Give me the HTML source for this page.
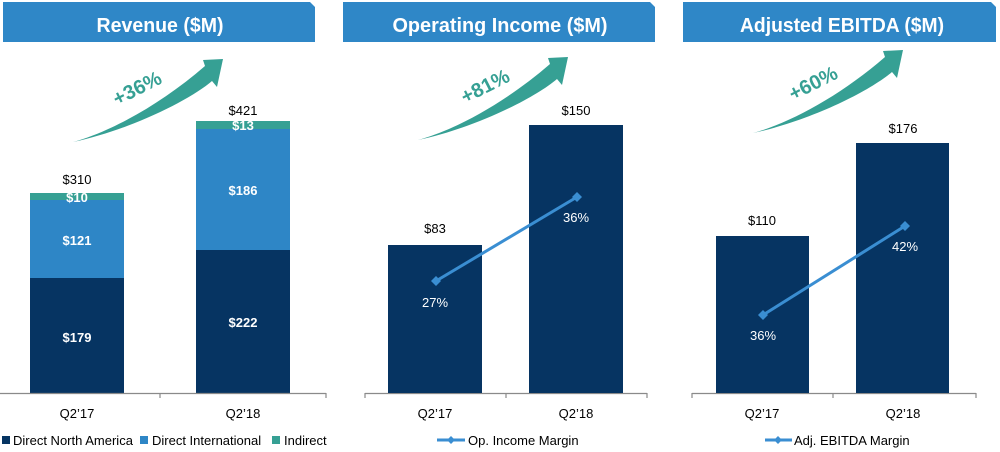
<!DOCTYPE html>
<html><head><meta charset="utf-8"><style>
html,body{margin:0;padding:0;background:#fff;}
svg{display:block;}
text{font-family:"Liberation Sans",sans-serif;}
</style></head><body>
<svg width="1000" height="452" viewBox="0 0 1000 452" xmlns="http://www.w3.org/2000/svg">
<defs>
<g id="arrow">
<path d="M73 142 C110 132 160 105 205 66 L203 60 L223 59 L217 87 L212 81 C190 100 130 130 73 142 Z" fill="#36A094"/>
</g>
</defs>
<!-- Headers -->
<polygon points="3,2 310,2 315,7 315,42 3,42" fill="#2F87C7"/>
<polygon points="343,2 650,2 655,7 655,42 343,42" fill="#2F87C7"/>
<polygon points="683,2 991,2 996,7 996,42 683,42" fill="#2F87C7"/>
<text x="160" y="32" fill="#fff" font-size="20" font-weight="bold" text-anchor="middle" textLength="127" lengthAdjust="spacingAndGlyphs">Revenue ($M)</text>
<text x="500" y="32" fill="#fff" font-size="20" font-weight="bold" text-anchor="middle" textLength="215" lengthAdjust="spacingAndGlyphs">Operating Income ($M)</text>
<text x="842" y="32" fill="#fff" font-size="20" font-weight="bold" text-anchor="middle" textLength="204" lengthAdjust="spacingAndGlyphs">Adjusted EBITDA ($M)</text>

<!-- Arrows -->
<use href="#arrow"/>
<use href="#arrow" transform="translate(345,-2)"/>
<use href="#arrow" transform="translate(680,-9)"/>
<text x="137" y="95" fill="#36A094" font-size="20" font-weight="bold" text-anchor="middle" transform="rotate(-27 137 88)">+36%</text>
<text x="485" y="93" fill="#36A094" font-size="20" font-weight="bold" text-anchor="middle" transform="rotate(-27 485 86)">+81%</text>
<text x="813" y="90" fill="#36A094" font-size="20" font-weight="bold" text-anchor="middle" transform="rotate(-27 813 83)">+60%</text>

<!-- Panel 1 bars -->
<rect x="30" y="193" width="94" height="7" fill="#36A094"/>
<rect x="30" y="200" width="94" height="78" fill="#2E86C6"/>
<rect x="30" y="278" width="94" height="115" fill="#063462"/>
<rect x="196" y="121" width="94" height="8" fill="#36A094"/>
<rect x="196" y="129" width="94" height="121" fill="#2E86C6"/>
<rect x="196" y="250" width="94" height="143" fill="#063462"/>
<g font-size="13" text-anchor="middle">
<text x="77" y="184" fill="#000">$310</text>
<text x="243" y="115" fill="#000">$421</text>
<g fill="#fff" font-weight="bold">
<text x="77" y="202">$10</text>
<text x="77" y="245">$121</text>
<text x="77" y="342">$179</text>
<text x="243" y="130">$13</text>
<text x="243" y="195">$186</text>
<text x="243" y="327">$222</text>
</g>
<text x="77" y="418" fill="#000">Q2’17</text>
<text x="243" y="418" fill="#000">Q2’18</text>
</g>
<g stroke="#8a8a8a" stroke-width="1.2" fill="none">
<line x1="0" y1="393.5" x2="326" y2="393.5"/>
<line x1="160" y1="393" x2="160" y2="398"/>
<line x1="326" y1="393" x2="326" y2="398"/>
<line x1="365" y1="393.5" x2="647" y2="393.5"/>
<line x1="365" y1="393" x2="365" y2="398"/>
<line x1="506" y1="393" x2="506" y2="398"/>
<line x1="647" y1="393" x2="647" y2="398"/>
<line x1="692" y1="393.5" x2="976" y2="393.5"/>
<line x1="692" y1="393" x2="692" y2="398"/>
<line x1="833" y1="393" x2="833" y2="398"/>
<line x1="976" y1="393" x2="976" y2="398"/>
</g>
<!-- Panel 1 legend -->
<rect x="2" y="436" width="8" height="8" fill="#063462"/>
<text x="13" y="445" font-size="13" fill="#000">Direct North America</text>
<rect x="140" y="436" width="8" height="8" fill="#2E86C6"/>
<text x="152" y="445" font-size="13" fill="#000">Direct International</text>
<rect x="272" y="436" width="8" height="8" fill="#36A094"/>
<text x="284" y="445" font-size="13" fill="#000">Indirect</text>

<!-- Panel 2 -->
<rect x="388" y="245" width="94" height="148" fill="#063462"/>
<rect x="529" y="125" width="94" height="268" fill="#063462"/>
<line x1="436" y1="281" x2="577" y2="197" stroke="#3A8ED2" stroke-width="3"/>
<polygon points="436,276 441,281 436,286 431,281" fill="#3A8ED2"/>
<polygon points="577,192 582,197 577,202 572,197" fill="#3A8ED2"/>
<g font-size="13" text-anchor="middle">
<text x="435" y="233" fill="#000">$83</text>
<text x="576" y="115" fill="#000">$150</text>
<text x="435" y="307" fill="#fff">27%</text>
<text x="576" y="222" fill="#fff">36%</text>
<text x="435" y="418" fill="#000">Q2’17</text>
<text x="576" y="418" fill="#000">Q2’18</text>
</g>
<line x1="437" y1="440" x2="465" y2="440" stroke="#3A8ED2" stroke-width="3"/>
<polygon points="451,436 455,440 451,444 447,440" fill="#3A8ED2"/>
<text x="468" y="445" font-size="13" fill="#000">Op. Income Margin</text>

<!-- Panel 3 -->
<rect x="716" y="236" width="93" height="157" fill="#063462"/>
<rect x="856" y="143" width="93" height="250" fill="#063462"/>
<line x1="763" y1="315" x2="905" y2="226" stroke="#3A8ED2" stroke-width="3"/>
<polygon points="763,310 768,315 763,320 758,315" fill="#3A8ED2"/>
<polygon points="905,221 910,226 905,231 900,226" fill="#3A8ED2"/>
<g font-size="13" text-anchor="middle">
<text x="762" y="225" fill="#000">$110</text>
<text x="903" y="133" fill="#000">$176</text>
<text x="763" y="340" fill="#fff">36%</text>
<text x="905" y="251" fill="#fff">42%</text>
<text x="762" y="418" fill="#000">Q2’17</text>
<text x="903" y="418" fill="#000">Q2’18</text>
</g>
<line x1="765" y1="440" x2="792" y2="440" stroke="#3A8ED2" stroke-width="3"/>
<polygon points="778,436 782,440 778,444 774,440" fill="#3A8ED2"/>
<text x="794" y="445" font-size="13" fill="#000">Adj. EBITDA Margin</text>
</svg>
</body></html>
